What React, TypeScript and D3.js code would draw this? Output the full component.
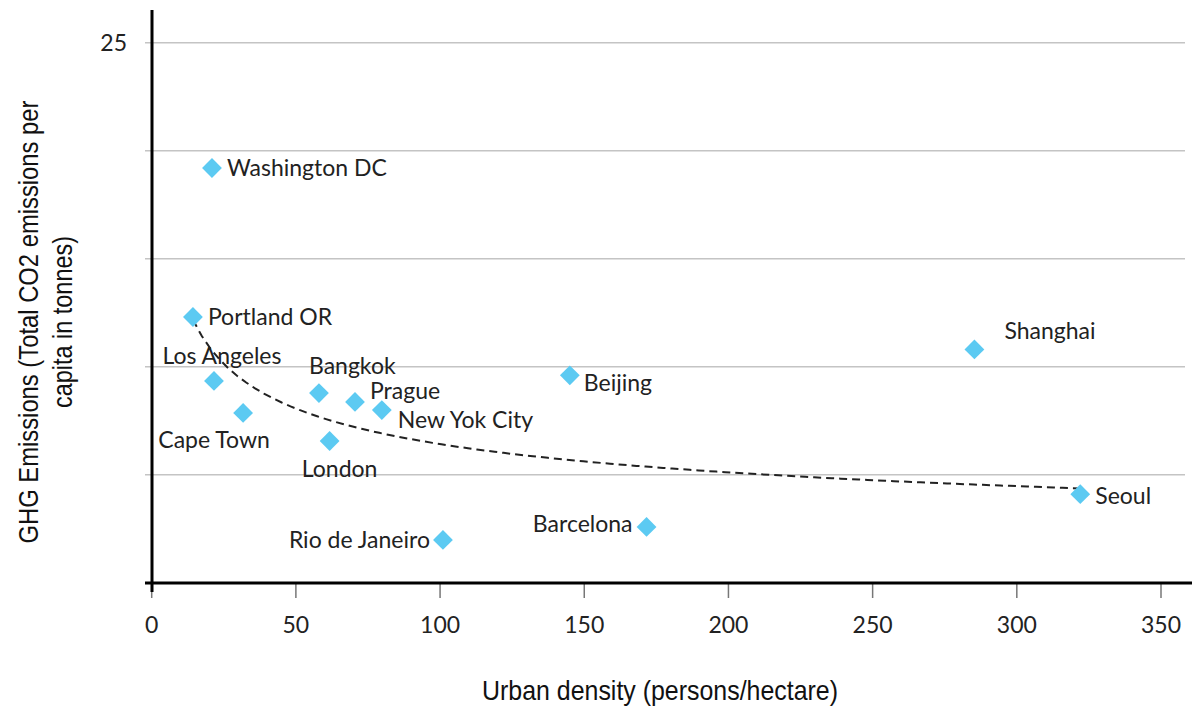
import React from "react";
import * as d3 from "d3";

const cities = ["Washington DC", "Portland OR", "Los Angeles", "Cape Town", "Bangkok", "Prague", "New Yok City", "London", "Rio de Janeiro", "Beijing", "Barcelona", "Shanghai", "Seoul"];
const density = [20.9, 14.3, 21.6, 31.7, 58, 70.5, 79.8, 61.7, 101, 145, 171.6, 285.3, 322];
const emissions = [19.2, 12.3, 9.34, 7.86, 8.78, 8.37, 7.99, 6.56, 1.98, 9.6, 2.58, 10.8, 4.1];
const xTicks = [0, 50, 100, 150, 200, 250, 300, 350];
const yGrid = [5, 10, 15, 20, 25];
const yTickLabels = [25];

// label placement (anchor, dx, dy) per city
const labelPlace: [string, number, number][] = [
  ["start", 15, 0],
  ["start", 15, 0],
  ["middle", 8, -25],
  ["middle", -29, 27],
  ["start", -10, -27],
  ["start", 15, -11],
  ["start", 16, 10],
  ["middle", 10, 28],
  ["end", -13, 0],
  ["start", 14, 8],
  ["end", -14, -3],
  ["start", 30, -18],
  ["start", 15, 2],
];

const W = 1192, H = 707;
const labelFont = "Lato, 'Open Sans', sans-serif";
const titleFont = "'Liberation Sans', Arial, sans-serif";

export default function App() {
  const x = d3.scaleLinear().domain([0, 350]).range([151.7, 1161]);
  const y = d3.scaleLinear().domain([0, 25]).range([582.7, 42.7]);

  // power regression y = a * x^b (trendline)
  const lx = density.map(Math.log);
  const ly = emissions.map(Math.log);
  const mx = d3.mean(lx)!, my = d3.mean(ly)!;
  const b = d3.sum(lx.map((v, i) => (v - mx) * (ly[i] - my))) / d3.sum(lx.map(v => (v - mx) ** 2));
  const a = Math.exp(my - b * mx);
  const [x0, x1] = d3.extent(density) as [number, number];
  const trendPts = d3.range(0, 101).map(i => {
    const xv = x0 + (x1 - x0) * i / 100;
    return [xv, a * Math.pow(xv, b)] as [number, number];
  });
  const line = d3.line<[number, number]>().x(d => x(d[0])).y(d => y(d[1]));
  const diamond = d3.symbol(d3.symbolSquare, 196)();

  return (
    <svg width={W} height={H} style={{ position: "absolute", left: 0, top: 0, background: "#fff" }}>
      {yGrid.map(v => (
        <g key={v}>
          <line x1={145} x2={1185} y1={y(v)} y2={y(v)} stroke="#c4c4c4" strokeWidth={1.5} />
        </g>
      ))}
      {yTickLabels.map(v => (
        <text key={v} x={127} y={y(v)} dy="0.35em" textAnchor="end" fontFamily={labelFont} fontSize={23} fill="#222">{v}</text>
      ))}
      {xTicks.map(v => (
        <g key={v}>
          <line x1={x(v)} x2={x(v)} y1={584} y2={598} stroke="#777" strokeWidth={1.5} />
          <text x={x(v)} y={625} dy="0.35em" textAnchor="middle" fontFamily={labelFont} fontSize={23} fill="#222">{v}</text>
        </g>
      ))}
      <line x1={152} x2={152} y1={10} y2={592} stroke="#000" strokeWidth={3} />
      <line x1={145} x2={1192} y1={583} y2={583} stroke="#000" strokeWidth={3} />
      <path d={line(trendPts) || ""} fill="none" stroke="#222" strokeWidth={2} strokeDasharray="8,5" />
      {cities.map((c, i) => {
        const px = x(density[i]), py = y(emissions[i]);
        const [anchor, dx, dy] = labelPlace[i];
        return (
          <g key={c}>
            <path d={diamond || ""} transform={`translate(${px},${py}) rotate(45)`} fill="#5ccaf2" />
            <text x={px + dx} y={py + dy} dy="0.35em" textAnchor={anchor as any} fontFamily={labelFont} fontSize={23} fill="#222">{c}</text>
          </g>
        );
      })}
      <text x={660} y={690} dy="0.35em" textAnchor="middle" fontFamily={titleFont} fontSize={28} fill="#111" textLength={356} lengthAdjust="spacingAndGlyphs">Urban density (persons/hectare)</text>
      <g transform="translate(28,322) rotate(-90)">
        <text x={0} y={0} dy="0.35em" textAnchor="middle" fontFamily={titleFont} fontSize={28} fill="#111" textLength={443} lengthAdjust="spacingAndGlyphs">GHG Emissions (Total CO2 emissions per</text>
        <text x={0} y={34} dy="0.35em" textAnchor="middle" fontFamily={titleFont} fontSize={28} fill="#111" textLength={172} lengthAdjust="spacingAndGlyphs">capita in tonnes)</text>
      </g>
    </svg>
  );
}
